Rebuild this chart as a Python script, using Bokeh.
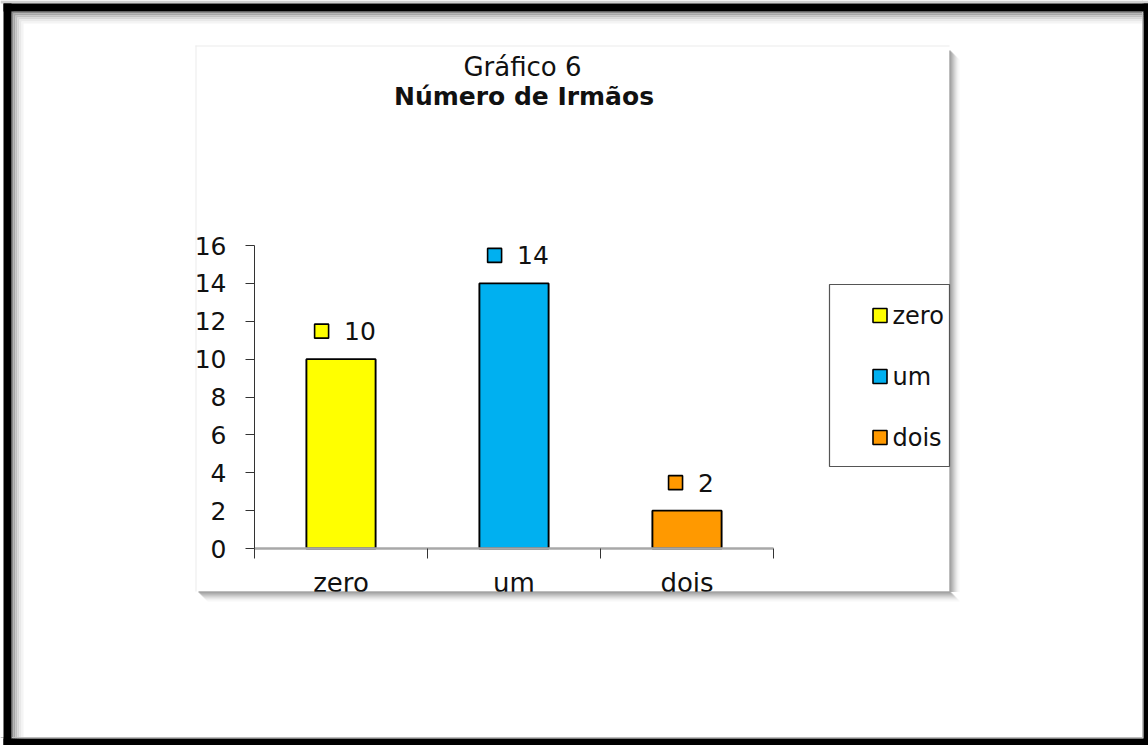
from bokeh.plotting import figure
from bokeh.models import Range1d, FixedTicker, ColumnDataSource
from bokeh.core.properties import value
from bokeh.embed import file_html
from bokeh.resources import INLINE

# ---------------- data ----------------
title_top = "Gráfico 6"
title_main = "Número de Irmãos"
categories = ["zero", "um", "dois"]
counts = [10, 14, 2]
colors = ["#FFFF00", "#00B0F0", "#FF9900"]
y_ticks = [0, 2, 4, 6, 8, 10, 12, 14, 16]

# ---------------- layout constants (canvas pixels) ----------------
W, H = 1148, 745
FL, FR, FT, FB = 254, 773, 245, 548   # plot area: y axis at FL, x axis at FB
FONT = "DejaVu Sans"
TXT = "#111111"

n = len(categories)
xs = list(range(n))
px_x = (FR - FL) / n                                   # pixels per category
px_y = (FB - FT) / (y_ticks[-1] - y_ticks[0])          # pixels per unit


def dx(px):
    return xs[0] - 0.5 + (px - FL) / px_x


def dy(py):
    return y_ticks[0] + (FB - py) / px_y


# data-label geometry (derived from the values)
labels = [str(v) for v in counts]
digit_w = 15.9
sq_px, gap_px = 15, 15
grp_w = [sq_px + gap_px + digit_w * len(s) for s in labels]
sq_x = [x + (4 - g / 2 + sq_px / 2) / px_x for x, g in zip(xs, grp_w)]
sq_y = [v + 28 / px_y for v in counts]
txt_dx = [4 - g / 2 + sq_px + gap_px for g in grp_w]

src = ColumnDataSource(dict(x=xs, count=counts, color=colors, cat=categories,
                            label=labels, sq_x=sq_x, sq_y=sq_y, txt_dx=txt_dx))

p = figure(width=W, height=H,
           x_range=Range1d(dx(0), dx(W)), y_range=Range1d(dy(H), dy(0)),
           output_backend="svg", toolbar_location=None, tools="",
           min_border=0, min_border_left=0, min_border_right=0,
           min_border_top=0, min_border_bottom=0)
p.outline_line_color = None
p.background_fill_color = "white"
p.border_fill_color = "white"
p.xgrid.visible = False
p.ygrid.visible = False


def quads(boxes, **kw):
    p.quad(left=[dx(b[0]) for b in boxes], right=[dx(b[1]) for b in boxes],
           top=[dy(b[2]) for b in boxes], bottom=[dy(b[3]) for b in boxes], **kw)


# ---------------- page frame: inner shadow + black border ----------------
inner = ["#8a8a8a", "#a6a6a6", "#c0c0c0", "#d6d6d6", "#e8e8e8", "#f4f4f4"]
for k, c in enumerate(inner):
    a = 11 + 2 * k
    quads([(a, a + 2, a, H), (a, W, a, a + 2)], fill_color=c, line_color=None)
quads([(0, 1142, 736.5, 737.5), (1141.5, 1142.5, 0, 737.5)], fill_color="#bdbdbd", line_color=None)
quads([(0, W, 0, 3)], fill_color="#d0d0d0", line_color=None)
quads([(3, 11, 3, H), (3, W, 3, 11), (1143, W, 3, H), (3, W, 738, H)],
      fill_color="black", line_color=None)

# ---------------- chart panel: faint edge + drop shadow ----------------
quads([(195, 196, 45, 591), (195, 949, 45, 46)], fill_color="#ececec", line_color=None)
shade = ["#7c7c7c", "#8a8a8a", "#999999", "#a9a9a9", "#b9b9b9", "#c9c9c9",
         "#d8d8d8", "#e5e5e5", "#f0f0f0", "#f8f8f8"]
for k, c in enumerate(shade):
    quads([(949 + k, 950 + k, 50 + k, 591 + k)], fill_color=c, line_color=None)

# ---------------- bars & data labels ----------------
p.vbar(x="x", top="count", bottom=y_ticks[0], width=0.4, fill_color="color",
       line_color="black", line_width=1.9, source=src)
p.scatter(x="sq_x", y="sq_y", marker="square", size=14, fill_color="color",
          line_color="black", line_width=1.6, source=src)
p.text(x="x", y="sq_y", text="label", x_offset="txt_dx",
       text_font=value(FONT), text_font_size=value("25px"),
       text_align="left", text_baseline="middle", text_color=TXT, source=src)

# ---------------- titles ----------------
p.text(x=[dx(522)], y=[dy(66.5)], text=[title_top], text_font=value(FONT),
       text_font_size=value("26px"), text_align="center",
       text_baseline="alphabetic", text_color=TXT)
p.text(x=[dx(523.5)], y=[dy(95.5)], text=[title_main], text_font=value(FONT),
       text_font_size=value("25px"), text_font_style="bold", text_align="center",
       text_baseline="alphabetic", text_color=TXT)

# ---------------- legend (box, swatches, labels) ----------------
leg_y = [dy(315 + 61 * i) for i in range(n)]
quads([(829, 949, 284, 466)], fill_color=None, line_color="#555555", line_width=1.2)
p.scatter(x=[dx(879.5)] * n, y=leg_y, marker="square", size=14, fill_color=colors,
          line_color="black", line_width=1.6)
p.text(x=[dx(892)] * n, y=leg_y, text=categories, text_font=value(FONT),
       text_font_size=value("24px"), text_align="left", text_baseline="middle",
       text_color=TXT)

# ---------------- axes (drawn at fixed positions inside the canvas) ----------------
ya = p.yaxis[0]
ya.fixed_location = xs[0] - 0.5
ya.bounds = (y_ticks[0], y_ticks[-1])
ya.ticker = FixedTicker(ticks=y_ticks)
ya.axis_line_color = "#333333"
ya.major_tick_line_color = "#333333"
ya.major_tick_out = 9
ya.major_tick_in = 0
ya.minor_tick_line_color = None
ya.major_label_standoff = 19
ya.major_label_text_font = FONT
ya.major_label_text_font_size = "25px"
ya.major_label_text_color = TXT

xa = p.xaxis[0]
xa.fixed_location = y_ticks[0]
xa.bounds = (xs[0] - 0.5, xs[-1] + 0.5)
xa.ticker = FixedTicker(ticks=xs, minor_ticks=[x - 0.5 for x in xs] + [xs[-1] + 0.5])
xa.major_label_overrides = {x: c for x, c in zip(xs, categories)}
xa.axis_line_color = "#a8a8a8"
xa.axis_line_width = 2.5
xa.major_tick_line_color = None
xa.major_tick_out = 0
xa.major_tick_in = 0
xa.minor_tick_line_color = "#333333"
xa.minor_tick_out = 10
xa.minor_tick_in = 0
xa.major_label_standoff = 9
xa.major_label_text_font = FONT
xa.major_label_text_font_size = "26px"
xa.major_label_text_color = TXT

# ---------------- clip the category labels at the panel's lower edge ----------------
quads([(190, 962, 591.5, 650)], fill_color="white", line_color=None, level="annotation")
for k, c in enumerate(shade):
    quads([(198 + k, 950 + k, 591 + k, 592 + k)], fill_color=c, line_color=None,
          level="annotation")

open("out.html", "w").write(file_html(p, INLINE))
